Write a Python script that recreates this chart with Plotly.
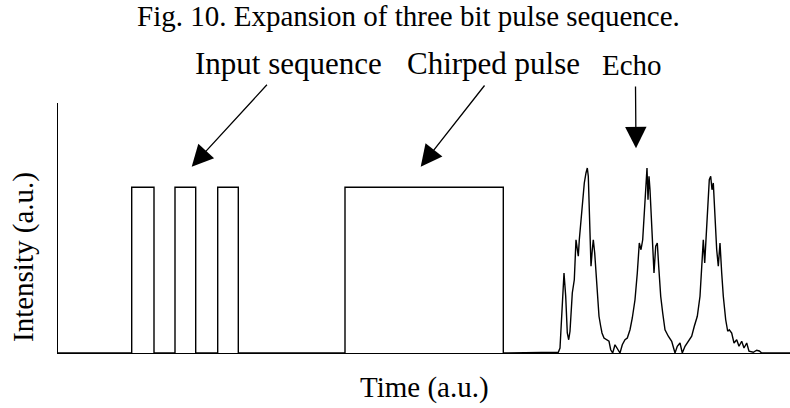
import plotly.graph_objects as go

# ---------------- data (time and intensity in arbitrary units) ----------------
pulse_starts = [73.7, 117.0, 159.7]        # input sequence: three bits
pulse_ends = [96.0, 137.7, 180.3]
pulse_height = 0.663

chirp_start = 287.0                          # chirped pulse
chirp_end = 445.3
chirp_height = 0.663

echo_t = [482, 500.3, 502, 503.7, 506, 507.7, 509.3, 510.7, 512, 514.3, 516.3, 518, 519.3,
          520.3, 521.3, 523.7, 525.3, 526.3, 528, 529.3, 530.3, 531, 532, 533, 534.3, 535.3,
          536.7, 538, 539.3, 541, 542.7, 544, 546, 548.7, 551, 552.7, 554.7, 557, 559.3, 562,
          564.3, 567, 569.3, 572, 574.3, 577, 579.3, 581.3, 583, 584.7, 586.3, 588, 589, 590,
          591, 592, 593.3, 594.7, 596, 597.7, 599.3, 600.7, 602.7, 604.7, 607, 610.3, 613.7,
          617, 619.3, 622, 624.3, 627, 630.3, 633.7, 636.3, 639.3, 642, 643.7, 645.3, 646.7,
          648, 649.7, 651.3, 652.7, 654, 655.3, 657, 658.7, 660.3, 662, 663.7, 665.3, 667.7,
          669.7, 671.3, 673.7, 676, 678.7, 681, 683.7, 686, 688.7, 691, 695.3, 698.7, 701.3,
          703.7, 732]
echo_i = [0, 0.003, 0.02, 0.16, 0.32, 0.227, 0.08, 0.053, 0.087, 0.24, 0.293, 0.453, 0.4,
          0.387, 0.453, 0.56, 0.653, 0.68, 0.72, 0.74, 0.707, 0.587, 0.453, 0.347, 0.413, 0.453,
          0.4, 0.32, 0.227, 0.147, 0.107, 0.08, 0.06, 0.053, 0.047, 0.013, 0, 0.033, 0.02, 0,
          0.033, 0.053, 0.06, 0.093, 0.14, 0.213, 0.32, 0.44, 0.413, 0.453, 0.56, 0.68, 0.74, 0.613,
          0.707, 0.653, 0.547, 0.453, 0.32, 0.427, 0.44, 0.347, 0.227, 0.16, 0.093, 0.067, 0.047,
          0, 0.027, 0.04, 0, 0.027, 0.047, 0.067, 0.107, 0.147, 0.227, 0.347, 0.453, 0.36,
          0.453, 0.587, 0.693, 0.707, 0.653, 0.68, 0.52, 0.413, 0.347, 0.44, 0.32, 0.227, 0.133,
          0.087, 0.093, 0.08, 0.04, 0.053, 0.027, 0.047, 0.02, 0.04, 0.007, 0.003, 0.011, 0.008,
          0, 0]

title_text = "Fig. 10. Expansion of three bit pulse sequence."
labels = ["Input sequence", "Chirped pulse", "Echo"]
x_title = "Time (a.u.)"
y_title = "Intensity (a.u.)"

# ---------------- build the signal ----------------
t = [0.0]
y = [0.0]
for s, e in zip(pulse_starts, pulse_ends):
    t += [s, s, e, e]
    y += [0, pulse_height, pulse_height, 0]
t += [chirp_start, chirp_start, chirp_end, chirp_end]
y += [0, chirp_height, chirp_height, 0]
t += echo_t
y += echo_i

W, H = 790, 408
ML, MR, MT, MB = 58, 0, 103, 55
PW, PH = W - ML - MR, H - MT - MB


def px(xp):
    return (xp - ML) / PW


def py(yp):
    return (H - MB - yp) / PH


FONT = "Liberation Serif, Times New Roman, serif"

fig = go.Figure()
fig.add_trace(go.Scatter(x=t, y=y, mode="lines", line=dict(color="black", width=1.4),
                         cliponaxis=False, hoverinfo="skip", showlegend=False))

annotations = [
    dict(text=title_text, x=px(408.5), y=py(15.8), font=dict(size=29)),
    dict(text=labels[0], x=px(288.5), y=py(63.0), font=dict(size=31)),
    dict(text=labels[1], x=px(493), y=py(63.0), font=dict(size=31)),
    dict(text=labels[2], x=px(632), y=py(64.5), font=dict(size=29)),
    dict(text=x_title, x=px(424), y=py(387.5), font=dict(size=29)),
    dict(text=y_title, x=px(23), y=py(257), font=dict(size=29), textangle=-90),
]
for a in annotations:
    a.update(xref="paper", yref="paper", showarrow=False, xanchor="center", yanchor="middle")
    a["font"].update(family=FONT, color="black")

# arrows: (head x, head y, tail x, tail y) in pixels
arrows = [(191.7, 166.7, 268.3, 83.3), (420.7, 166.7, 485.7, 84.0), (636.0, 148.3, 635.5, 85.0)]
for hx, hy, tx, ty in arrows:
    annotations.append(dict(text="", x=px(hx), y=py(hy), xref="paper", yref="paper",
                            ax=tx - hx, ay=ty - hy, showarrow=True, arrowhead=2,
                            arrowsize=3.3, arrowwidth=1.3, arrowcolor="black", standoff=0))

fig.update_layout(
    width=W, height=H,
    margin=dict(l=ML, r=MR, t=MT, b=MB, pad=0),
    paper_bgcolor="white", plot_bgcolor="white",
    annotations=annotations,
    xaxis=dict(range=[0, PW], showline=True, linecolor="black", linewidth=1.3,
               showgrid=False, zeroline=False, showticklabels=False, ticks=""),
    yaxis=dict(range=[0, 1], showline=True, linecolor="black", linewidth=1.3,
               showgrid=False, zeroline=False, showticklabels=False, ticks=""),
)

fig.write_html("out.html")
